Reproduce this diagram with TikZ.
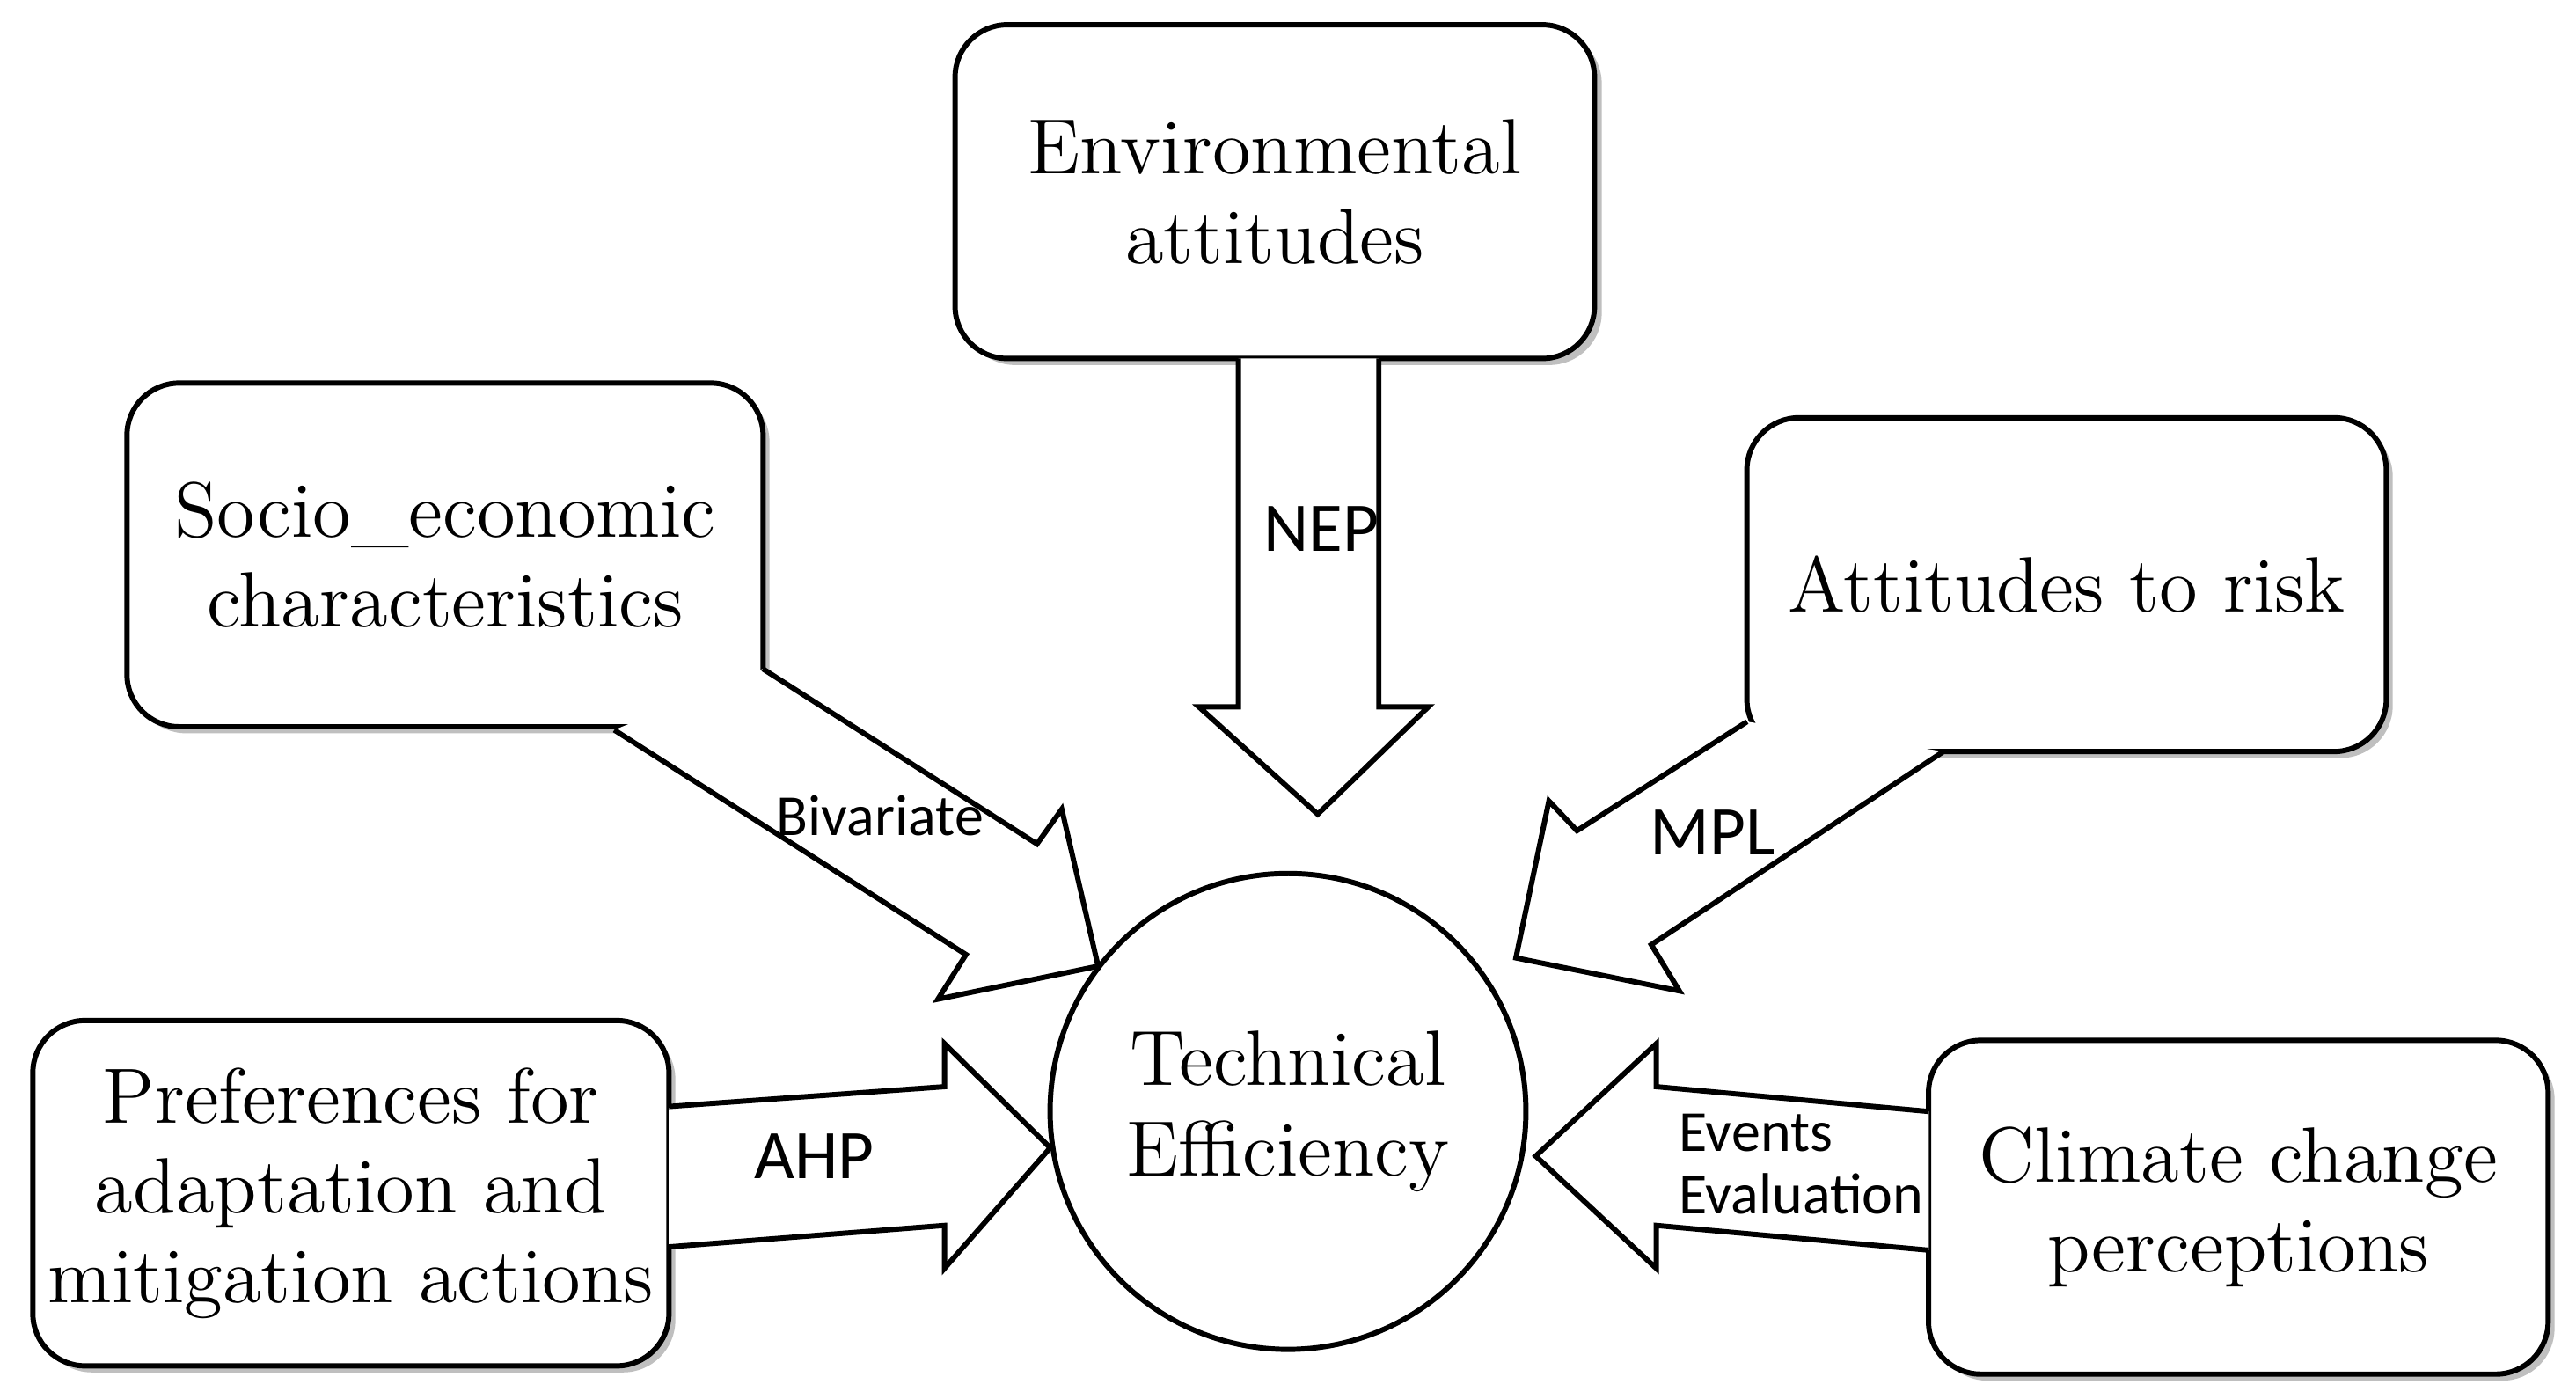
\documentclass[tikz,border=0pt]{standalone}
\usepackage{fontspec}
\newfontfamily\lab{Carlito}
\begin{document}
\begin{tikzpicture}[x=0.01cm,y=-0.01cm,
  bx/.style={draw,line width=0.9pt,rounded corners=9pt,fill=white,align=center,font=\fontsize{13.5}{15.5}\selectfont,inner sep=0pt},
  blk/.style={draw,line width=0.9pt,fill=white,line join=miter},
  lb/.style={font=\lab\fontsize{10}{12}\selectfont,inner sep=0pt}]
\useasboundingbox (0,0) rectangle (1560,847);
\tikzset{shd/.style={fill=black!25,draw=none,rounded corners=9pt}}
\foreach \a/\b/\c/\d in {579/15/966/217,77/232/462/440,1058/253/1445/455,20/618/405/827,1168/630/1543/832}
  \fill[shd] (\a+4,\b+4) rectangle (\c+4,\d+4);
\node[bx,minimum width=3.87cm,minimum height=2.02cm] (env) at (772,116) {Environmental\\attitudes};
\node[bx,minimum width=3.85cm,minimum height=2.08cm] (soc) at (269.5,336) {Socio\_economic\\characteristics};
\node[bx,minimum width=3.87cm,minimum height=2.02cm] (risk) at (1251.5,354) {Attitudes to risk};
\node[bx,minimum width=3.85cm,minimum height=2.09cm] (pref) at (212.5,722.5) {Preferences for\\adaptation and\\mitigation actions};
\node[bx,minimum width=3.75cm,minimum height=2.02cm] (clim) at (1355.5,731) {Climate change\\perceptions};
\node[draw,line width=0.9pt,circle,minimum size=2.88cm,align=center,font=\fontsize{13.5}{15.5}\selectfont,inner sep=0pt] (te) at (780,673) {Technical\\Efficiency};
% block arrows
\draw[blk] (750,217)--(750,428)--(726,428)--(798,493)--(865,428)--(835,428)--(835,217);
\draw[blk] (462,405)--(628,511)--(643,490)--(665,585)--(568,605)--(585,578)--(372,442);
\draw[blk] (1058,437)--(955,503)--(938,485)--(918,580)--(1017,600)--(1000,572)--(1177,455);
\draw[blk] (405,670)--(572,658)--(572,632)--(636,695)--(572,768)--(572,742)--(405,755);
\draw[blk] (1168,673)--(1003,658)--(1003,632)--(930,700)--(1003,768)--(1003,742)--(1168,757);
\node[lb,font=\lab\fontsize{12}{14}\selectfont] (nep) at (800,320) {NEP};
\node[lb] (biv) at (533,494) {Bivariate};
\node[lb,font=\lab\fontsize{12}{14}\selectfont] (mpl) at (1037,504) {MPL};
\node[lb,font=\lab\fontsize{12}{14}\selectfont] (ahp) at (493,700) {AHP};
\node[lb,anchor=west] (ev) at (1016,686) {Events};
\node[lb,anchor=west] (eva) at (1016,723) {Evaluation};
\end{tikzpicture}
\end{document}
